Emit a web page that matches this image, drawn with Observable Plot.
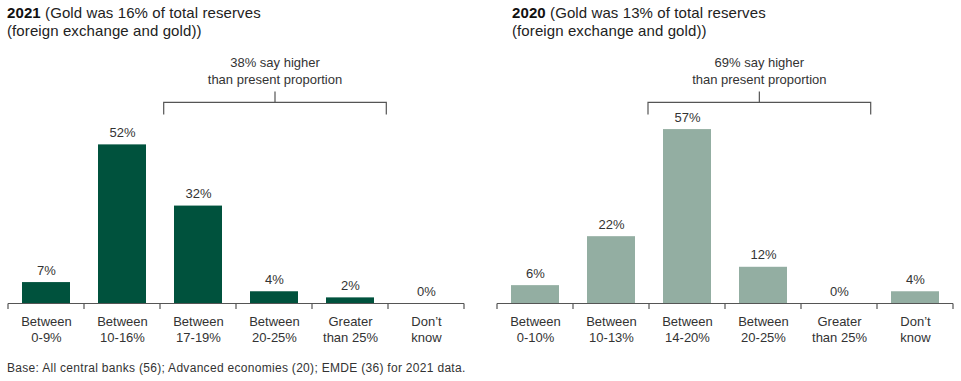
<!DOCTYPE html>
<html><head><meta charset="utf-8">
<script src="https://cdn.jsdelivr.net/npm/d3@7"></script>
<script src="https://cdn.jsdelivr.net/npm/@observablehq/plot@0.6"></script>
<style>
body{margin:0;background:#fff;font-family:"Liberation Sans",Arial,sans-serif;color:#222;}
#wrap{position:relative;width:961px;height:381px;overflow:hidden;}
.title{position:absolute;top:4px;font-size:15px;line-height:18px;color:#222;white-space:nowrap;letter-spacing:0.1px;}
.title b{color:#111}
#t1{left:7px} #t2{left:512px}
#p1{position:absolute;left:0;top:45px} #p2{position:absolute;left:480px;top:45px}
#cap{position:absolute;left:7px;top:361px;font-size:12px;line-height:14px;color:#333;white-space:nowrap;letter-spacing:0.3px;}
</style></head><body>
<div id="wrap">
  <div class="title" id="t1"><b>2021</b> (Gold was 16% of total reserves<br>(foreign exchange and gold))</div>
  <div class="title" id="t2"><b>2020</b> (Gold was 13% of total reserves<br>(foreign exchange and gold))</div>
  <div id="p1"></div>
  <div id="p2"></div>
  <div id="cap">Base: All central banks (56); Advanced economies (20); EMDE (36) for 2021 data.</div>
</div>
<script>
const categories2021 = ["Between\n0-9%", "Between\n10-16%", "Between\n17-19%", "Between\n20-25%", "Greater\nthan 25%", "Don’t\nknow"];
const values2021 = [7, 52, 32, 4, 2, 0];
const categories2020 = ["Between\n0-10%", "Between\n10-13%", "Between\n14-20%", "Between\n20-25%", "Greater\nthan 25%", "Don’t\nknow"];
const values2020 = [6, 22, 57, 12, 0, 4];
const bracketLabels = ["38% say higher\nthan present proportion", "69% say higher\nthan present proportion"];
const bracketFrom = [2, 2];
const bracketTo = [4, 4];
const bracketLevel = 65.7;
const yMax = 60;

const TEXT = "#333";
const LINE = "#555";
const FONT = "'Liberation Sans', Arial, sans-serif";

function panel({cats, vals, color, from, to, label, insetL, insetR, width, marginLeft, marginRight}) {
  const data = cats.map((c, i) => ({cat: c, value: vals[i], label: vals[i] + "%"}));
  const height = 305;
  const marginBottom = 46.5;
  const marginTop = height - marginBottom - yMax * 3.06;

  const axisMark = (index, scales) => {
    const x = scales.x, y = scales.y;
    const step = x.step(), bw = x.bandwidth();
    const y0 = y(0);
    const g = d3.create("svg:g").attr("stroke", LINE).attr("stroke-width", 1.2).attr("fill", "none");
    const left = x(cats[0]) + bw / 2 - step / 2;
    const right = x(cats[cats.length - 1]) + bw / 2 + step / 2;
    g.append("line").attr("x1", left).attr("x2", right).attr("y1", y0).attr("y2", y0);
    for (let i = 0; i <= cats.length; i++) {
      const xx = left + i * step;
      g.append("line").attr("x1", xx).attr("x2", xx).attr("y1", y0).attr("y2", y0 + 5.5);
    }
    return g.node();
  };

  const bracketMark = (index, scales) => {
    const x = scales.x, y = scales.y;
    const step = x.step(), bw = x.bandwidth();
    const x1 = x(cats[from]) + bw / 2 - step / 2 + insetL;
    const x2 = x(cats[to]) + bw / 2 + step / 2 - insetR;
    const xm = (x1 + x2) / 2;
    const yl = y(bracketLevel);
    const g = d3.create("svg:g");
    g.append("path")
      .attr("d", `M${x1},${yl + 12}V${yl}H${x2}V${yl + 12}M${xm},${yl}V${yl - 11}`)
      .attr("fill", "none").attr("stroke", LINE).attr("stroke-width", 1.2);
    const t = g.append("text").attr("text-anchor", "middle").attr("fill", TEXT)
      .attr("font-size", 13).attr("font-family", FONT);
    const lines = label.split("\n");
    lines.forEach((s, i) => {
      t.append("tspan").attr("x", xm).attr("y", yl - 18 - (lines.length - 1 - i) * 17).text(s);
    });
    return g.node();
  };

  return Plot.plot({
    width, height, marginLeft, marginRight, marginTop, marginBottom,
    style: {fontFamily: FONT, fontSize: "13px", color: TEXT, background: "transparent", overflow: "visible"},
    x: {domain: cats, paddingInner: 0.37, paddingOuter: 0.185, axis: null},
    y: {domain: [0, yMax], axis: null},
    marks: [
      Plot.barY(data, {x: "cat", y: "value", fill: color}),
      Plot.text(data, {x: "cat", y: "value", text: "label", lineAnchor: "bottom", dy: -8, fill: TEXT, fontSize: 13}),
      Plot.text(data, {x: "cat", text: "cat", frameAnchor: "bottom", lineAnchor: "top", dy: 10.5, lineHeight: 1.23, fill: TEXT, fontSize: 13}),
      axisMark,
      bracketMark
    ]
  });
}

document.getElementById("p1").appendChild(panel({
  cats: categories2021, vals: values2021, color: "#00523d",
  from: bracketFrom[0], to: bracketTo[0], label: bracketLabels[0], insetL: 3.7, insetR: 1.7,
  width: 480, marginLeft: 7, marginRight: 16
}));
document.getElementById("p2").appendChild(panel({
  cats: categories2020, vals: values2020, color: "#93aea2",
  from: bracketFrom[1], to: bracketTo[1], label: bracketLabels[1], insetL: -1, insetR: 6.3,
  width: 481, marginLeft: 16, marginRight: 7.7
}));
</script>
</body></html>
